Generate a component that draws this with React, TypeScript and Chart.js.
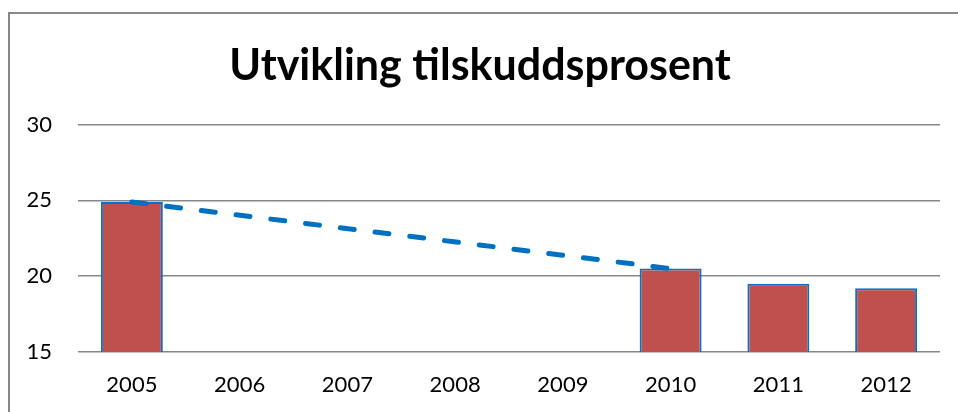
import React, { useEffect, useRef } from "react";
import { Chart, registerables } from "chart.js";

Chart.register(...registerables);

const chartTitle = "Utvikling tilskuddsprosent";
const years = ["2005", "2006", "2007", "2008", "2009", "2010", "2011", "2012"];
const barValues: (number | null)[] = [24.9, null, null, null, null, 20.5, 19.5, 19.2];
const trendValues: (number | null)[] = [24.9, null, null, null, null, 20.5, null, null];
const yMin = 15;
const yMax = 30;
const yStep = 5;

export default function App() {
  const canvasRef = useRef<HTMLCanvasElement | null>(null);

  useEffect(() => {
    const canvas = canvasRef.current;
    if (!canvas) return;
    const chart = new Chart(canvas, {
      type: "bar",
      data: {
        labels: years,
        datasets: [
          {
            type: "line",
            label: "Trend",
            data: trendValues,
            borderColor: "#0070C0",
            borderWidth: 5,
            borderDash: [14, 21],
            borderCapStyle: "round",
            pointRadius: 0,
            spanGaps: true,
            fill: false,
            order: 0,
          } as any,
          {
            type: "bar",
            label: "Tilskuddsprosent",
            data: barValues,
            backgroundColor: "#C0504D",
            borderColor: "#0A72C6",
            borderWidth: 2,
            barPercentage: 0.575,
            categoryPercentage: 1,
            order: 1,
          } as any,
        ],
      },
      options: {
        responsive: false,
        animation: false,
        layout: { padding: { left: 20, right: 18, top: 0, bottom: 0 } },
        plugins: {
          legend: { display: false },
          tooltip: { enabled: false },
          title: {
            display: true,
            text: chartTitle,
            color: "#000000",
            font: { family: "Lato", size: 43, weight: "bold", lineHeight: 1.2 },
            padding: { top: 40, bottom: 33 },
          },
        },
        scales: {
          x: {
            grid: { display: false, drawTicks: false },
            border: { display: false },
            ticks: {
              color: "#000000",
              font: { family: "Lato", size: 22 },
              padding: 20,
              maxRotation: 0,
              autoSkip: false,
            },
            afterFit: (scale: any) => {
              scale.height = 60;
            },
          },
          y: {
            min: yMin,
            max: yMax,
            border: { display: false },
            grid: { color: "#888888", lineWidth: 1.5, drawTicks: false },
            ticks: {
              stepSize: yStep,
              color: "#000000",
              font: { family: "Lato", size: 22 },
              padding: 26,
            },
            afterFit: (scale: any) => {
              scale.width = 58;
            },
          },
        },
      },
    });
    return () => chart.destroy();
  }, []);

  return (
    <div style={{ position: "fixed", left: 0, top: 0, width: 958, height: 412, background: "#ffffff", overflow: "hidden" }}>
      <div
        style={{
          position: "absolute",
          left: 8,
          top: 12,
          width: 1000,
          height: 500,
          borderLeft: "2px solid #888888",
          borderTop: "2px solid #888888",
          boxSizing: "border-box",
        }}
      />
      <canvas ref={canvasRef} width={958} height={412} style={{ position: "absolute", left: 0, top: 0 }} />
    </div>
  );
}
